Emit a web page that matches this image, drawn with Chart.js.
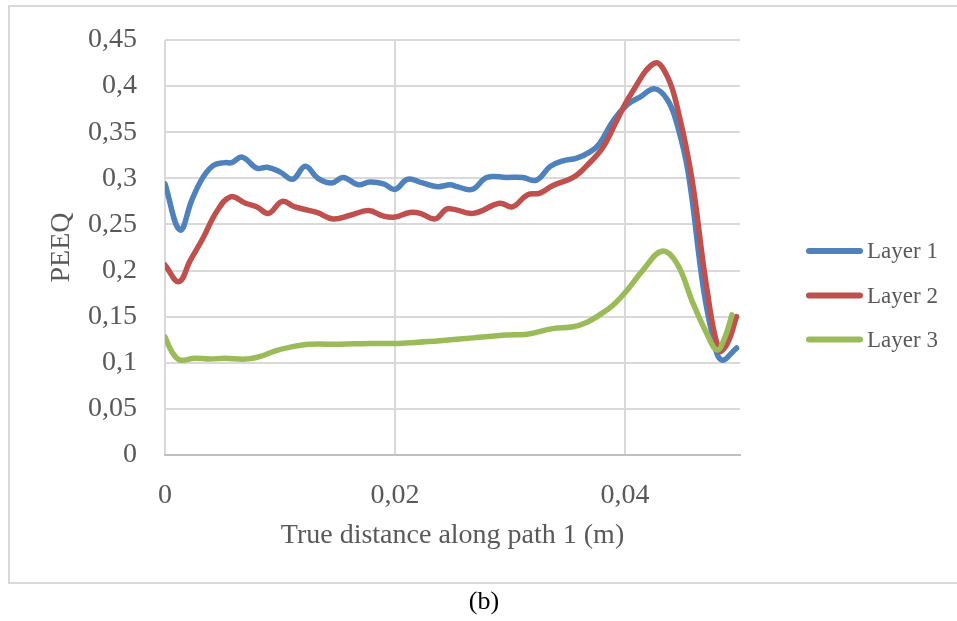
<!DOCTYPE html>
<html>
<head>
<meta charset="utf-8">
<script src="https://cdn.jsdelivr.net/npm/chart.js@4/dist/chart.umd.min.js"></script>
<style>
  html, body { margin: 0; padding: 0; background: #fff; }
  body { width: 957px; height: 621px; position: relative; overflow: hidden; }
  #frame { position: absolute; left: 8px; top: 5px; width: 1000px; height: 575px; border: 2px solid #d9d9d9; box-sizing: content-box; }
  #wrap { position: absolute; left: 0; top: 0; width: 957px; height: 621px; }
  #caption { position: absolute; left: 0; width: 968px; top: 586px; text-align: center;
             font-family: "Liberation Serif", serif; font-size: 26px; color: #000; }
</style>
</head>
<body>
<div id="frame"></div>
<div id="wrap"><canvas id="chart" width="957" height="621"></canvas></div>
<div id="caption">(b)</div>
<script>
// PEEQ along path 1 for the three layers
const seriesNames = ['Layer 1', 'Layer 2', 'Layer 3'];
const seriesColors = ['#4f81bd', '#c0504d', '#9bbb59'];

const distLayer1 = [0, 0.0013, 0.00235, 0.0033, 0.0042, 0.0052, 0.0058, 0.0067, 0.0080, 0.0089,
  0.0100, 0.0111, 0.0122, 0.0133, 0.0145, 0.0155, 0.0168, 0.0178, 0.0190, 0.0200,
  0.0211, 0.0224, 0.0237, 0.0248, 0.0254, 0.0267, 0.0280, 0.0297, 0.0311, 0.0323,
  0.0335, 0.0346, 0.0358, 0.0370, 0.0378, 0.0390, 0.0402, 0.0413, 0.0426, 0.0437,
  0.0445, 0.0455, 0.0468, 0.0477, 0.0484, 0.0497];
const peeqLayer1 = [0.294, 0.244, 0.277, 0.301, 0.314, 0.317, 0.317, 0.323, 0.311, 0.312,
  0.307, 0.299, 0.313, 0.300, 0.295, 0.301, 0.293, 0.296, 0.294, 0.288,
  0.299, 0.295, 0.291, 0.293, 0.291, 0.288, 0.301, 0.301, 0.301, 0.298,
  0.313, 0.319, 0.322, 0.329, 0.338, 0.363, 0.380, 0.388, 0.397, 0.385,
  0.360, 0.306, 0.182, 0.125, 0.103, 0.116];

const distLayer2 = [0, 0.0012, 0.0022, 0.0033, 0.0045, 0.0057, 0.0070, 0.0080, 0.0090, 0.0102,
  0.0113, 0.0132, 0.0146, 0.0161, 0.0177, 0.0190, 0.0200, 0.0213, 0.0222, 0.0235,
  0.0246, 0.0268, 0.0291, 0.0302, 0.0315, 0.0326, 0.0337, 0.0355, 0.0367, 0.0381,
  0.0393, 0.0405, 0.0426, 0.0437, 0.0446, 0.0458, 0.0471, 0.0482, 0.0489,
  0.0497];
const peeqLayer2 = [0.206, 0.188, 0.211, 0.235, 0.264, 0.280, 0.273, 0.269, 0.262, 0.275,
  0.269, 0.263, 0.256, 0.260, 0.265, 0.259, 0.258, 0.263, 0.262, 0.256,
  0.267, 0.262, 0.273, 0.269, 0.282, 0.284, 0.292, 0.301, 0.314, 0.334,
  0.363, 0.391, 0.425, 0.410, 0.374, 0.301, 0.182, 0.113, 0.121,
  0.150];

const distLayer3 = [0, 0.0006, 0.0013, 0.0026, 0.0039, 0.0052, 0.0070, 0.0083, 0.0096, 0.0109,
  0.0126, 0.0152, 0.0178, 0.0204, 0.0239, 0.0268, 0.0297, 0.0315, 0.0337, 0.0355,
  0.0367, 0.0378, 0.0390, 0.0402, 0.0416, 0.0432, 0.0445, 0.0459, 0.0471, 0.0480,
  0.0487, 0.0493];
const peeqLayer3 = [0.128, 0.112, 0.103, 0.105, 0.104, 0.105, 0.104, 0.107, 0.113, 0.117,
  0.120, 0.120, 0.121, 0.121, 0.124, 0.127, 0.130, 0.131, 0.137, 0.139,
  0.144, 0.152, 0.163, 0.179, 0.201, 0.221, 0.208, 0.165, 0.132, 0.114,
  0.128, 0.152];

const xTickValues = [0, 0.02, 0.04];
const xTickLabels = ['0', '0,02', '0,04'];
const yTickValues = [0, 0.05, 0.1, 0.15, 0.2, 0.25, 0.3, 0.35, 0.4, 0.45];
const yTickLabels = ['0', '0,05', '0,1', '0,15', '0,2', '0,25', '0,3', '0,35', '0,4', '0,45'];

const xTitle = 'True distance along path 1 (m)';
const yTitle = 'PEEQ';

const FONT = '"Liberation Serif", serif';
const TEXT = '#595959';

function toPoints(xs, ys) { return xs.map((x, i) => ({ x: x, y: ys[i] })); }

const allDist = [distLayer1, distLayer2, distLayer3];
const allPeeq = [peeqLayer1, peeqLayer2, peeqLayer3];

const datasets = seriesNames.map((name, i) => ({
  label: name,
  data: toPoints(allDist[i], allPeeq[i]),
  borderColor: seriesColors[i],
  backgroundColor: seriesColors[i],
  borderWidth: 5.5,
  pointRadius: 0,
  tension: 0.4,
  fill: false,
  borderCapStyle: 'round',
  borderJoinStyle: 'round',
  order: seriesNames.length - 1 - i   // later series painted over earlier ones
}));

// Legend to the right of the plot: short line swatch followed by the series name
const sideLegend = {
  id: 'sideLegend',
  afterDraw(chart) {
    const ctx = chart.ctx;
    const rows = [251, 295.5, 339.5];
    ctx.save();
    chart.data.datasets.forEach((ds, i) => {
      const y = rows[i];
      ctx.strokeStyle = ds.borderColor;
      ctx.lineWidth = 6;
      ctx.lineCap = 'round';
      ctx.beginPath();
      ctx.moveTo(809, y);
      ctx.lineTo(860, y);
      ctx.stroke();
      ctx.fillStyle = TEXT;
      ctx.font = '23px ' + FONT;
      ctx.textBaseline = 'middle';
      ctx.textAlign = 'left';
      ctx.fillText(ds.label, 867, y + 1);
    });
    ctx.restore();
  }
};

new Chart(document.getElementById('chart'), {
  type: 'line',
  data: { datasets: datasets },
  plugins: [sideLegend],
  options: {
    responsive: false,
    animation: false,
    layout: { padding: { top: 40, right: 217, bottom: 0, left: 0 } },
    plugins: { legend: { display: false }, tooltip: { enabled: false } },
    scales: {
      x: {
        type: 'linear',
        min: 0,
        max: 0.05,
        afterBuildTicks(scale) { scale.ticks = xTickValues.map(v => ({ value: v })); },
        afterFit(scale) { scale.height = 166; },
        ticks: {
          callback: (v, i) => xTickLabels[i],
          font: { family: FONT, size: 28 },
          color: TEXT,
          padding: 24,
          maxRotation: 0
        },
        grid: { color: '#d9d9d9', lineWidth: 2, drawTicks: false },
        border: { display: true, color: '#bfbfbf', width: 2 },
        title: {
          display: true,
          text: xTitle,
          font: { family: FONT, size: 28 },
          color: TEXT,
          padding: { top: 0, bottom: 69 }
        }
      },
      y: {
        type: 'linear',
        min: 0,
        max: 0.45,
        afterBuildTicks(scale) { scale.ticks = yTickValues.map(v => ({ value: v })); },
        afterFit(scale) {
          scale.width = 165;
          // plot top is set by the layout padding alone
          scale.paddingTop = 0;
          scale.paddingBottom = 0;
        },
        ticks: {
          callback: (v, i) => yTickLabels[i],
          font: { family: FONT, size: 28 },
          color: TEXT,
          padding: 28
        },
        grid: { color: '#d9d9d9', lineWidth: 2, drawTicks: false },
        border: { display: false },
        title: {
          display: true,
          text: yTitle,
          font: { family: FONT, size: 28 },
          color: TEXT,
          padding: { top: 45, bottom: 0 }
        }
      }
    }
  }
});
</script>
</body>
</html>
